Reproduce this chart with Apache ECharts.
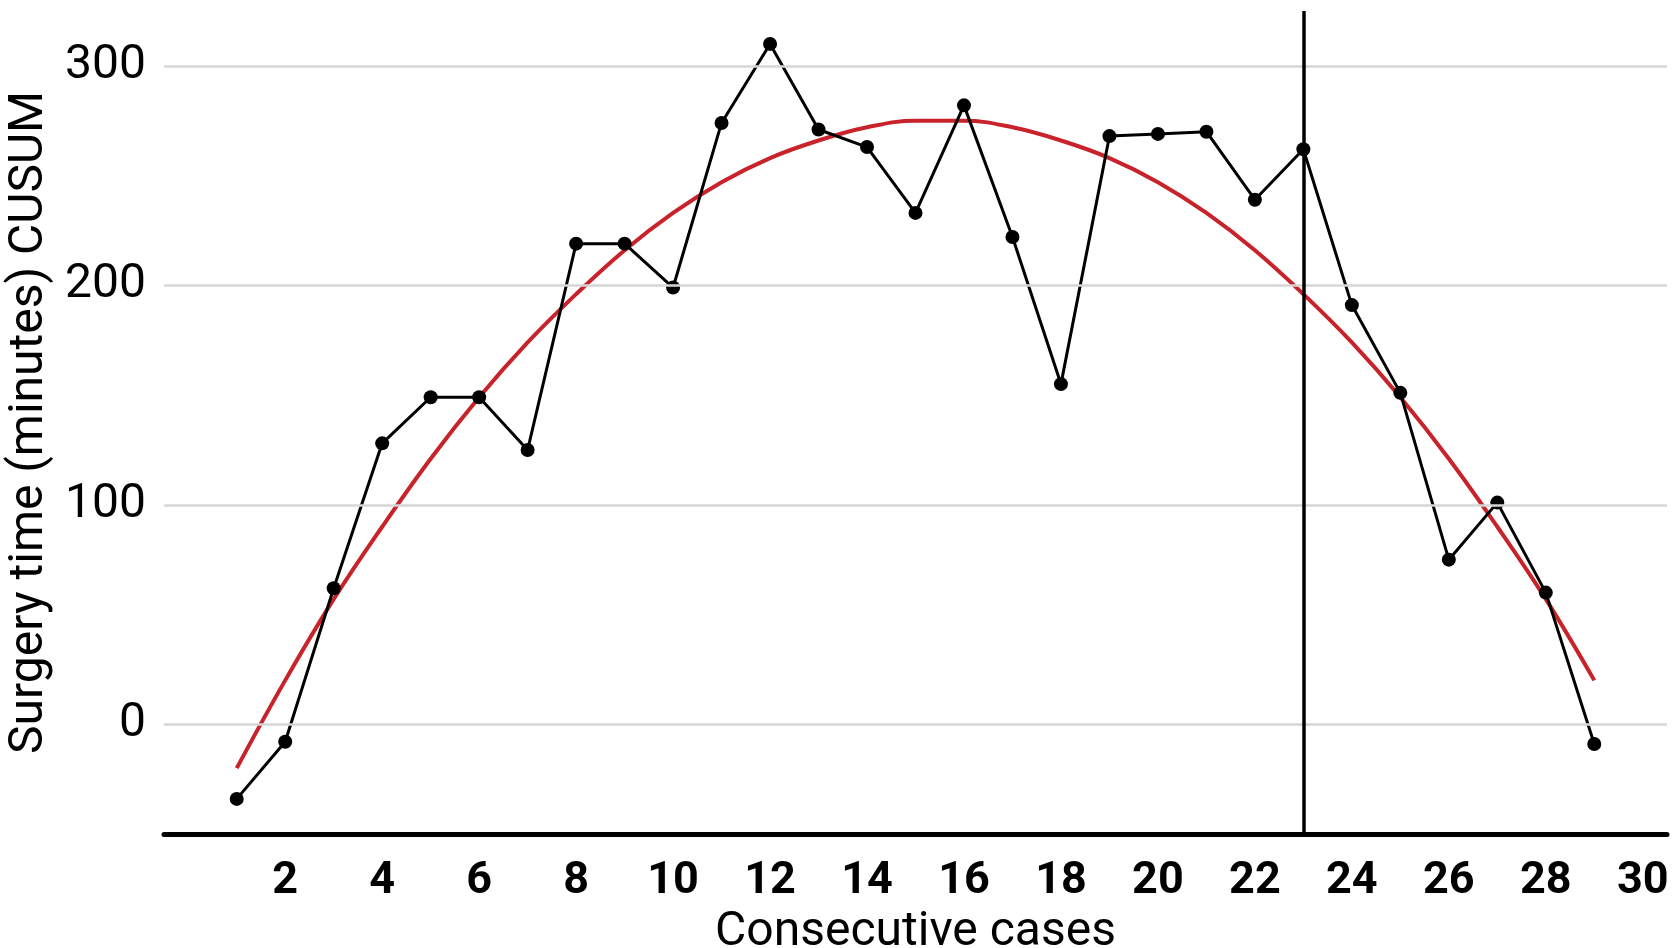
<!DOCTYPE html>
<html>
<head>
<meta charset="utf-8">
<title>CUSUM surgery time</title>
<script src="https://cdn.jsdelivr.net/npm/echarts@6/dist/echarts.min.js"></script>
<style>
  html, body { margin: 0; padding: 0; background: #fff; }
  #chart { width: 1675px; height: 948px; }
</style>
</head>
<body>
<div id="chart"></div>
<script>
// x categories 0..30 (only even ones from 2 are labelled)
const categories = Array.from({ length: 31 }, (_, i) => String(i));

// consecutive case numbers and the CUSUM of surgery time
const cases = [1, 2, 3, 4, 5, 6, 7, 8, 9, 10, 11, 12, 13, 14, 15, 16, 17, 18, 19, 20, 21, 22, 23, 24, 25, 26, 27, 28, 29];
const cusum = [-34, -8, 62, 128, 149, 149, 125, 219, 219, 199, 274, 310, 271, 263, 233, 282, 222, 155, 268, 269, 270, 239, 262, 191, 151, 75, 101, 60, -9];

// red fitted curve, read at each case
const fit = [-20, 20, 57, 90, 121, 149, 174, 196, 216, 233, 247, 258, 266, 272, 275, 275, 272, 266, 258, 247, 233, 216, 196, 174, 149, 121, 90, 57, 20];

// vertical cut-off and horizontal gridlines
const cutoffCase = '23';
const yGridValues = [0, 100, 200, 300];

const chartInstance = echarts.init(document.getElementById('chart'));

const option = {
  backgroundColor: '#fff',
  animation: false,
  textStyle: { fontFamily: 'Roboto' },
  grid: { left: 164, right: 8, top: 11, bottom: 114, containLabel: false, outerBoundsMode: 'none' },
  xAxis: {
    type: 'category',
    data: categories,
    boundaryGap: true,
    name: 'Consecutive cases',
    nameLocation: 'middle',
    nameGap: 59,
    nameTextStyle: { fontSize: 48, color: '#000', fontFamily: 'Roboto' },
    axisLine: { onZero: false, lineStyle: { color: '#000', width: 5 } },
    axisTick: { show: false },
    axisLabel: {
      interval: (index) => index > 0 && index % 2 === 0,
      fontSize: 45,
      fontWeight: 'bold',
      color: '#000',
      margin: 25,
    },
    splitLine: { show: false },
  },
  yAxis: {
    type: 'value',
    min: -50,
    max: 325,
    interval: 25,
    name: 'Surgery time (minutes) CUSUM',
    nameLocation: 'middle',
    nameRotate: 90,
    nameGap: 107,
    nameTextStyle: { fontSize: 48, color: '#000', fontFamily: 'Roboto' },
    axisLine: { show: false },
    axisTick: { show: false },
    axisLabel: {
      formatter: (v) => (v % 100 === 0 ? String(v) : ''),
      fontSize: 48,
      color: '#000',
      margin: 18,
    },
    splitLine: { show: false },
  },
  series: [
    {
      // horizontal gridlines
      name: 'grid',
      type: 'line',
      data: [],
      z: 1,
      silent: true,
      markLine: {
        silent: true,
        symbol: 'none',
        label: { show: false },
        lineStyle: { color: '#d6d6d6', width: 2.5, type: 'solid' },
        data: yGridValues.map(v => ({ yAxis: v })),
      },
    },
    {
      name: 'fit',
      type: 'line',
      data: fit.map((v, i) => [String(cases[i]), v]),
      smooth: 0.4,
      symbol: 'none',
      z: 3,
      lineStyle: { color: '#c8232a', width: 4, cap: 'butt' },
    },
    {
      name: 'CUSUM',
      type: 'line',
      data: cusum.map((v, i) => [String(cases[i]), v]),
      symbol: 'circle',
      symbolSize: 14,
      z: 4,
      itemStyle: { color: '#000' },
      lineStyle: { color: '#000', width: 3 },
      markLine: {
        silent: true,
        symbol: 'none',
        label: { show: false },
        lineStyle: { color: '#000', width: 3.5, type: 'solid' },
        data: [{ xAxis: cutoffCase }],
      },
    },
  ],
};

chartInstance.setOption(option);
window.addEventListener('resize', () => chartInstance.resize());
</script>
</body>
</html>
